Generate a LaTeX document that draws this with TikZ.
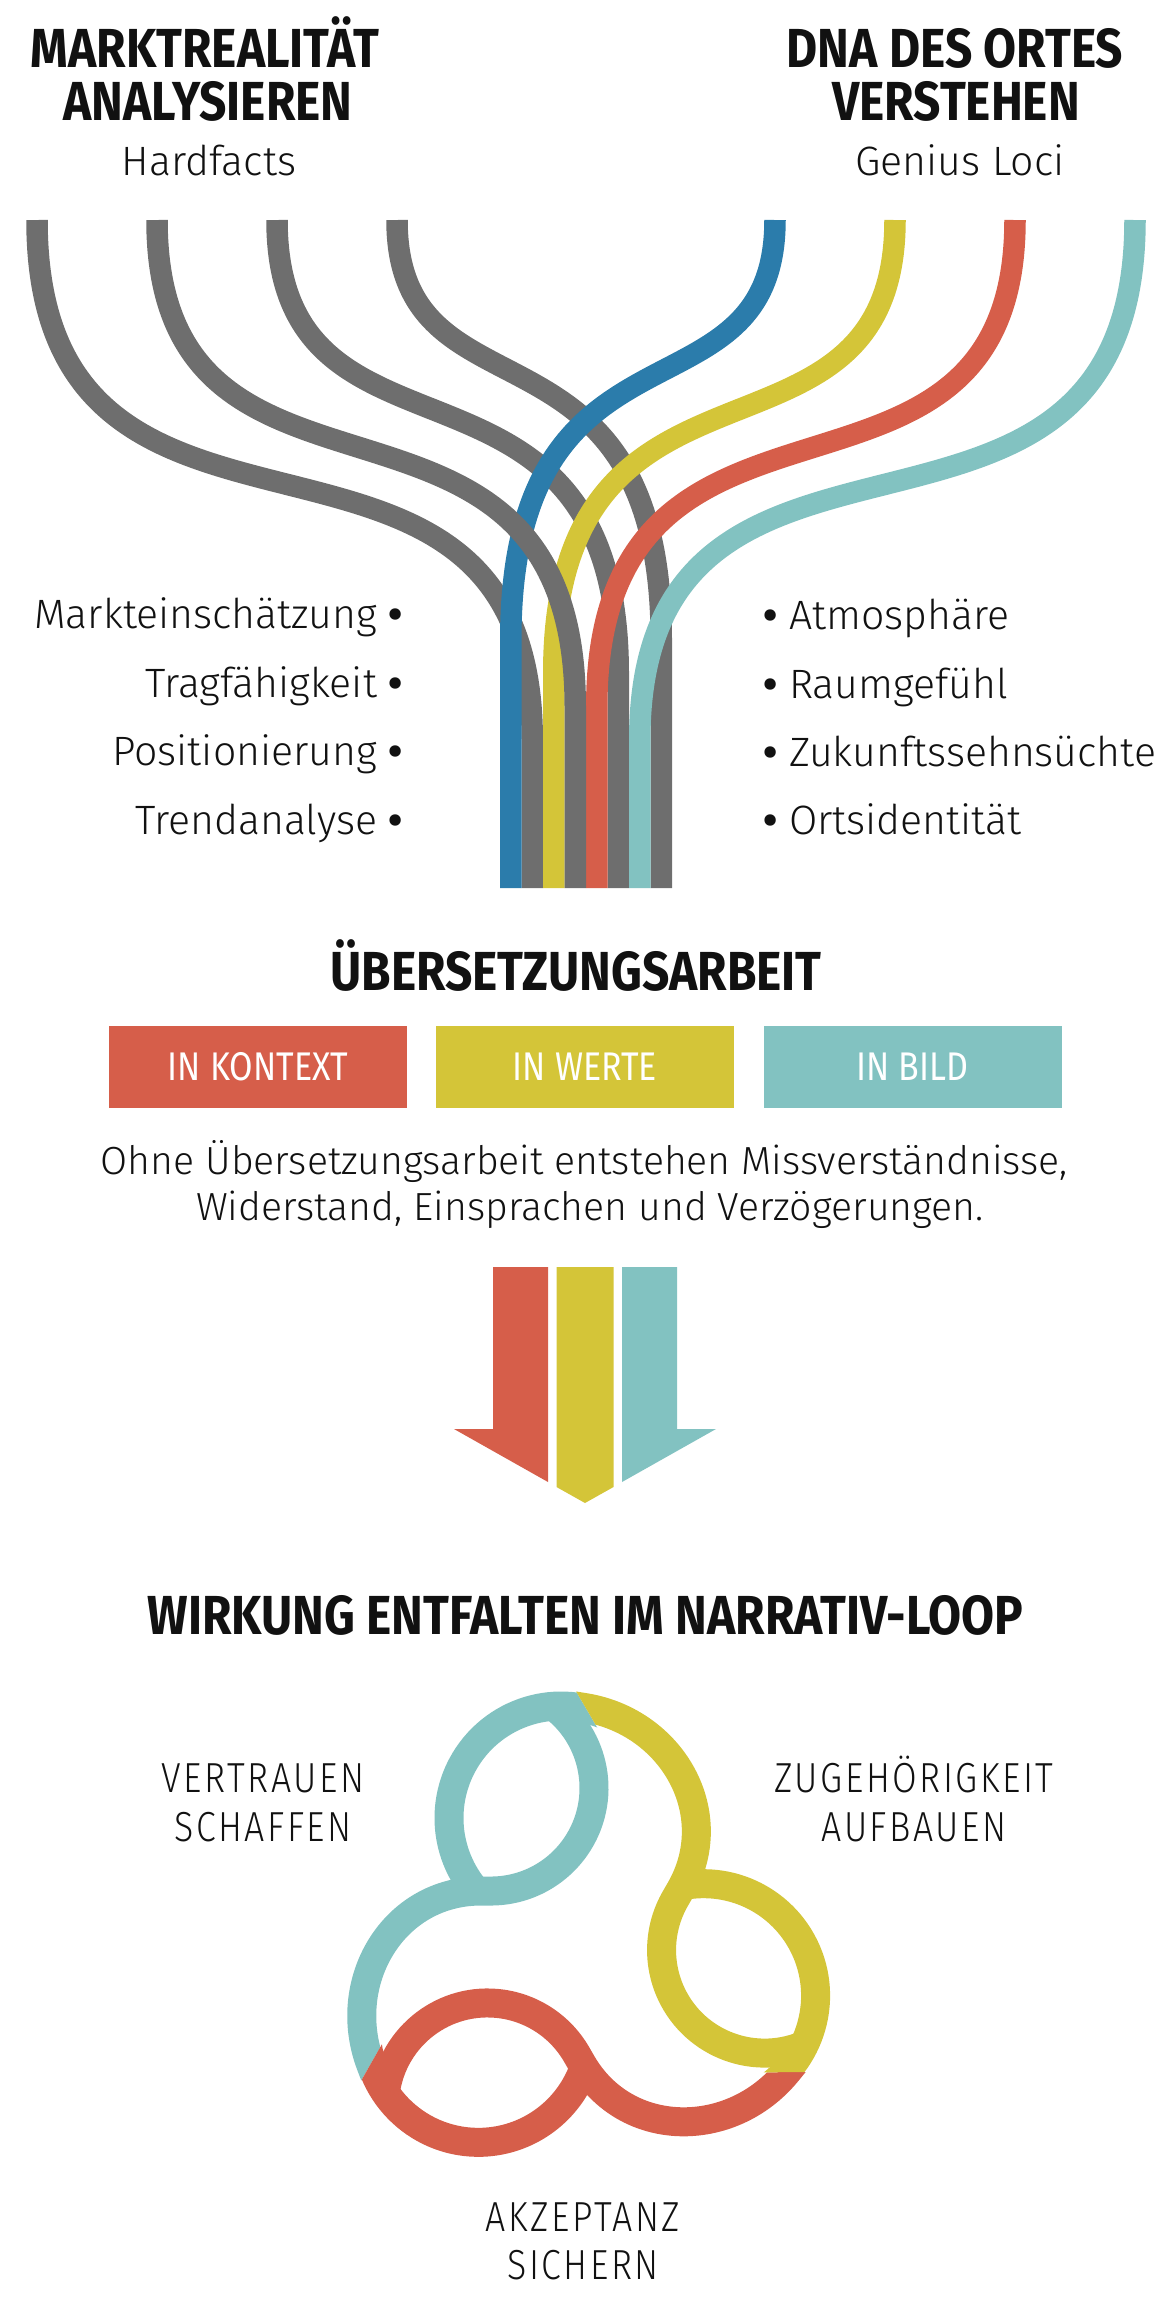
\documentclass[tikz,border=0pt]{standalone}
\usepackage{fontspec}
\setmainfont{Fira Sans Light}
\newfontfamily\headfont{Fira Sans Bold}[FakeStretch=0.87]
\newfontfamily\tagfont{Fira Sans}[FakeStretch=0.85]
\newfontfamily\capfont{Fira Sans Light}[FakeStretch=0.85, LetterSpace=6]
\newfontfamily\dotfont{Fira Sans Bold}
\newcommand{\listdot}{{\dotfont •}}

\definecolor{ink}{HTML}{111111}
\definecolor{linegray}{HTML}{6E6E6E}
\definecolor{dnablue}{HTML}{2B7CAB}
\definecolor{dnayellow}{HTML}{D4C538}
\definecolor{dnared}{HTML}{D65E4A}
\definecolor{dnateal}{HTML}{82C2C1}

\begin{document}
\begin{tikzpicture}[x=0.5pt, y=-0.5pt,
    headline/.style={font=\headfont\fontsize{27.5}{30}\selectfont, text=ink, inner sep=0pt, anchor=base},
    plain/.style={font=\fontsize{20.5}{24}\selectfont, text=ink, inner sep=0pt, anchor=base},
    para/.style={font=\fontsize{19.6}{24}\selectfont, text=ink, inner sep=0pt, anchor=base},
    looptext/.style={font=\capfont\fontsize{21}{24}\selectfont, text=ink, inner sep=0pt, anchor=base},
    tag/.style={minimum width=149pt, minimum height=41pt, inner sep=0pt, text=white, font=\tagfont\fontsize{20}{24}\selectfont},
    strand/.style={line width=10.75pt},
    band/.style={line width=14.5pt}]

  \useasboundingbox (0,0) rectangle (1173,2314);

  % two sources
  \node[headline] (markt) at (205,67) {MARKTREALITÄT};
  \node[headline] (analyse) at (208,120) {ANALYSIEREN};
  \node[plain] (hard) at (209,175) {Hardfacts};
  \node[headline] (dna) at (955,67) {DNA DES ORTES};
  \node[headline] (verstehen) at (956,120) {VERSTEHEN};
  \node[plain] (genius) at (960,175) {Genius Loci};

  % strands
  \foreach \xt/\xb/\ca/\cb/\yv in {37/532.25/620/350/740, 277/618.25/493/317/673, 397/661.25/430/300/640}
    \draw[strand, linegray] (\xt,220) .. controls (\xt,\ca) and (\xb,\cb) .. (\xb,\yv) -- (\xb,888);
  \foreach \xt/\xb/\ca/\cb/\yv/\col in {775/510.75/430/300/640/dnablue, 895/553.75/493/317/673/dnayellow,
      1015/596.75/557/333/707/dnared, 1135/639.75/620/350/740/dnateal}
    \draw[strand, \col] (\xt,220) .. controls (\xt,\ca) and (\xb,\cb) .. (\xb,\yv) -- (\xb,888);
  \draw[strand, linegray] (157,220) .. controls (157,557) and (575.25,333) .. (575.25,707) -- (575.25,888);

  % lists
  \node[plain, anchor=base east] (einsch) at (403,628) {Markteinschätzung \listdot};
  \node[plain, anchor=base east] (trag) at (403,697) {Tragfähigkeit \listdot};
  \node[plain, anchor=base east] (posit) at (403,765) {Positionierung \listdot};
  \node[plain, anchor=base east] (trend) at (403,834) {Trendanalyse \listdot};
  \node[plain, anchor=base west] (atmo) at (763,629) {\listdot{} Atmosphäre};
  \node[plain, anchor=base west] (raum) at (763,698) {\listdot{} Raumgefühl};
  \node[plain, anchor=base west] (zukunft) at (763,766) {\listdot{} Zukunftssehnsüchte};
  \node[plain, anchor=base west] (orts) at (763,834) {\listdot{} Ortsidentität};

  % translation
  \node[headline] (uebers) at (576,990) {ÜBERSETZUNGSARBEIT};
  \node[tag, fill=dnared] (kontext) at (258,1067) {IN KONTEXT};
  \node[tag, fill=dnayellow] (werte) at (585,1067) {IN WERTE};
  \node[tag, fill=dnateal] (bild) at (912.5,1067) {IN BILD};
  \node[para] (ohne1) at (584,1174) {Ohne Übersetzungsarbeit entstehen Missverständnisse,};
  \node[para] (ohne2) at (590,1220) {Widerstand, Einsprachen und Verzögerungen.};

  % arrow
  \fill[dnared] (493,1267) -- (548,1267) -- (548,1482) -- (454,1429) -- (493,1429) -- cycle;
  \fill[dnayellow] (556.5,1267) -- (613.5,1267) -- (613.5,1487) -- (585,1503) -- (556.5,1487) -- cycle;
  \fill[dnateal] (622,1267) -- (677,1267) -- (677,1429) -- (716,1429) -- (622,1482) -- cycle;

  % narrative loop
  \node[headline] (wirkung) at (585.5,1634) {WIRKUNG ENTFALTEN IM NARRATIV-LOOP};
  \foreach \ang/\col in {0/dnateal, 120/dnared, 240/dnayellow} {
    \begin{scope}[shift={(581,1948)}, rotate=\ang]
      \clip (-128.8,-468.2) -- (13.6,-225) -- (45,-170) -- (30,-60) -- (0,0) -- (-67,4)
        -- (-169.7,46) -- (-201.7,100.8) -- (-340.9,345.6) -- (-700,0) -- cycle;
      \draw[band, \col] (32.58,-228.89) arc[start angle=-62, end angle=-218, radius=112];
      \draw[band, \col] (-30.92,-244.37) arc[start angle=-55, end angle=90, radius=103] -- (-100,-57)
        .. controls (-188,-57) and (-241.2,33.5) .. (-210.5,116) -- ++(8,21);
    \end{scope}
  }
  \node[looptext] (vertrauen) at (263,1792) {VERTRAUEN};
  \node[looptext] (schaffen) at (263,1841) {SCHAFFEN};
  \node[looptext] (zugehoer) at (914,1792) {ZUGEHÖRIGKEIT};
  \node[looptext] (aufbauen) at (914,1841) {AUFBAUEN};
  \node[looptext] (akzeptanz) at (583,2231) {AKZEPTANZ};
  \node[looptext] (sichern) at (583,2279) {SICHERN};
\end{tikzpicture}
\end{document}
